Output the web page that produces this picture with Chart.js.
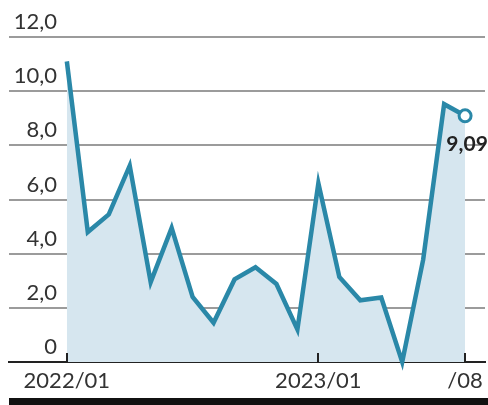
<!DOCTYPE html>
<html>
<head>
<meta charset="utf-8">
<script src="https://cdn.jsdelivr.net/npm/chart.js@4"></script>
<style>
  html, body { margin: 0; padding: 0; background: #fff; }
  #wrap { width: 488px; height: 405px; }
</style>
</head>
<body>
<div id="wrap"><canvas id="c"></canvas></div>
<script>
// データ
var months = ['2022/01','2022/02','2022/03','2022/04','2022/05','2022/06','2022/07','2022/08','2022/09','2022/10','2022/11','2022/12',
              '2023/01','2023/02','2023/03','2023/04','2023/05','2023/06','2023/07','2023/08'];
var values = [11.1, 4.8, 5.45, 7.25, 2.95, 4.95, 2.4, 1.45, 3.05, 3.5, 2.88, 1.2,
              6.6, 3.14, 2.28, 2.38, 0, 3.78, 9.52, 9.09];
var tickIndex = [0, 12, 19];
var tickLabels = ['2022/01', '2023/01', '/08'];
var yTicks = [0, 2, 4, 6, 8, 10, 12];
var lastLabel = '9,09';

var points = values.map(function (v, i) { return { x: i, y: v }; });
var lastIdx = values.length - 1;

// 目盛り・ラベル・下の黒帯
var decor = {
  id: 'decor',
  afterDraw: function (chart) {
    var c = chart.ctx, xs = chart.scales.x, ys = chart.scales.y, a = chart.chartArea;
    c.save();
    c.fillStyle = '#333';
    c.font = '22px Lato';
    c.textAlign = 'right';
    c.textBaseline = 'alphabetic';
    yTicks.forEach(function (v) {
      var t = v === 0 ? '0' : v.toFixed(1).replace('.', ',');
      c.fillText(t, 57, ys.getPixelForValue(v) - 8);
    });
    c.strokeStyle = '#222';
    c.lineWidth = 2;
    tickIndex.forEach(function (i) {
      var x = Math.round(xs.getPixelForValue(i));
      c.beginPath();
      c.moveTo(x, a.bottom);
      c.lineTo(x, a.bottom - 9);
      c.stroke();
    });
    var px = xs.getPixelForValue(lastIdx), py = ys.getPixelForValue(values[lastIdx]);
    c.font = 'bold 21px Lato';
    c.fillStyle = '#222';
    c.textAlign = 'center';
    c.textBaseline = 'top';
    c.fillText(lastLabel, px + 2, py + 18);
    c.fillStyle = '#111';
    c.fillRect(9, 398, 479, 7);
    c.restore();
  }
};

var chart = new Chart(document.getElementById('c'), {
  type: 'line',
  data: {
    datasets: [{
      data: points,
      borderColor: '#2a88a8',
      borderWidth: 4.5,
      backgroundColor: '#d6e6ef',
      fill: 'origin',
      tension: 0,
      borderJoinStyle: 'miter',
      clip: false,
      pointRadius: function (ctx) { return ctx.dataIndex === lastIdx ? 6 : 0; },
      pointBackgroundColor: '#fff',
      pointBorderColor: '#2a88a8',
      pointBorderWidth: 3
    }]
  },
  options: {
    responsive: true,
    maintainAspectRatio: false,
    animation: false,
    layout: { autoPadding: false, padding: { left: 9, right: 3, top: 37, bottom: 0 } },
    plugins: { legend: { display: false }, tooltip: { enabled: false } },
    scales: {
      x: {
        type: 'linear',
        min: -2.76,
        max: 19.95,
        afterBuildTicks: function (s) { s.ticks = tickIndex.map(function (v) { return { value: v }; }); },
        afterFit: function (s) { s.height = 43; s.paddingLeft = 0; s.paddingRight = 0; },
        ticks: {
          autoSkip: false,
          maxRotation: 0,
          padding: 6,
          color: '#333',
          font: { family: 'Lato', size: 22 },
          callback: function (v) { return tickLabels[tickIndex.indexOf(v)]; }
        },
        grid: { display: false, drawTicks: false },
        border: { display: true, color: '#222', width: 2 }
      },
      y: {
        min: 0,
        max: 12,
        afterBuildTicks: function (s) { s.ticks = yTicks.map(function (v) { return { value: v }; }); },
        afterFit: function (s) { s.width = 0; },
        ticks: { display: false },
        grid: { color: '#9b9b9b', lineWidth: 2, drawTicks: false },
        border: { display: false }
      }
    }
  },
  plugins: [decor]
});
</script>
</body>
</html>
